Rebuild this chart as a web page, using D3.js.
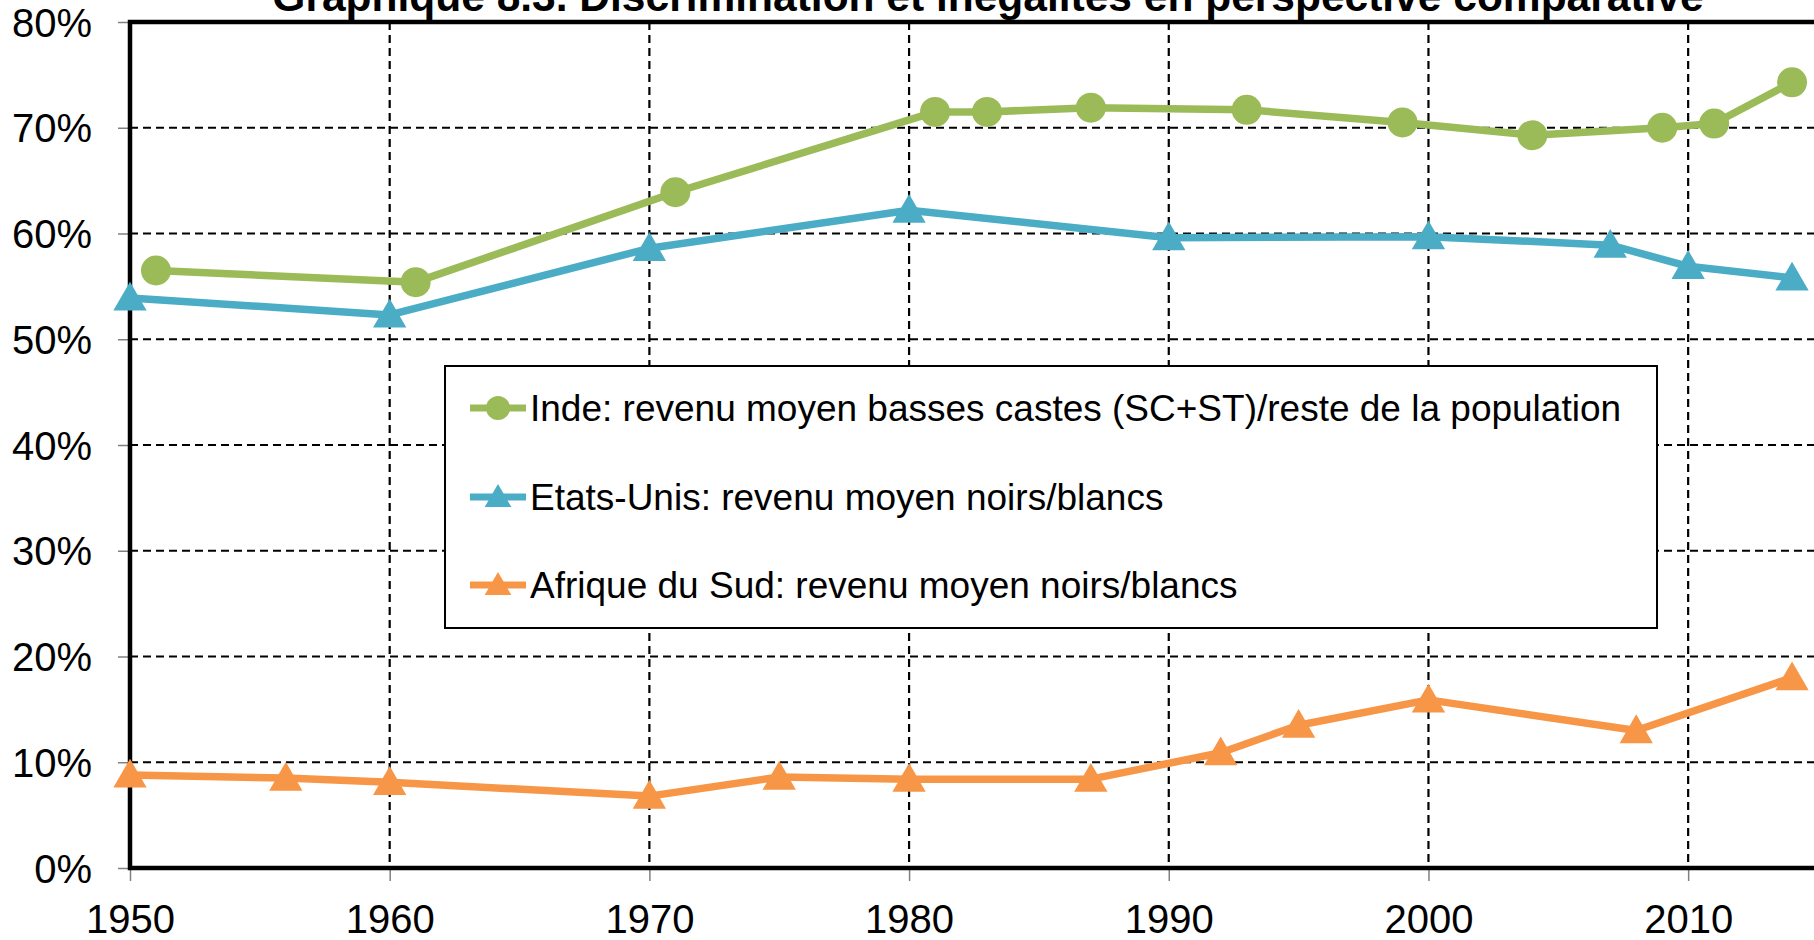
<!DOCTYPE html>
<html>
<head>
<meta charset="utf-8">
<script src="https://cdn.jsdelivr.net/npm/d3@7"></script>
<style>
  body { margin: 0; background: #fff; }
  svg { display: block; font-family: "Liberation Sans", Arial, sans-serif; }
</style>
</head>
<body>
<svg id="chart" width="1814" height="940"></svg>
<script>
// data
const titleText = "Graphique 8.3. Discrimination et inégalités en perspective comparative";

const indeYears = [1951, 1961, 1971, 1981, 1983, 1987, 1993, 1999, 2004, 2009, 2011, 2014];
const indeValues = [56.5, 55.4, 63.9, 71.5, 71.5, 71.9, 71.7, 70.5, 69.3, 70.0, 70.4, 74.3];

const usYears = [1950, 1960, 1970, 1980, 1990, 2000, 2007, 2010, 2014];
const usValues = [53.9, 52.3, 58.6, 62.2, 59.6, 59.7, 58.9, 56.9, 55.8];

const afsYears = [1950, 1956, 1960, 1970, 1975, 1980, 1987, 1992, 1995, 2000, 2008, 2014];
const afsValues = [8.8, 8.5, 8.1, 6.8, 8.6, 8.4, 8.4, 10.9, 13.5, 15.9, 13.0, 18.0];

const seriesNames = [
  "Inde: revenu moyen basses castes (SC+ST)/reste de la population",
  "Etats-Unis: revenu moyen noirs/blancs",
  "Afrique du Sud: revenu moyen noirs/blancs"
];

const xTicks = [1950, 1960, 1970, 1980, 1990, 2000, 2010];
const yTicks = [0, 10, 20, 30, 40, 50, 60, 70, 80];

const series = [
  { name: seriesNames[0], years: indeYears, values: indeValues, color: "#9BBB59", marker: "circle" },
  { name: seriesNames[1], years: usYears, values: usValues, color: "#4BACC6", marker: "triangle" },
  { name: seriesNames[2], years: afsYears, values: afsValues, color: "#F79646", marker: "triangle" }
];

const svg = d3.select("#chart");
const plotLeft = 130, plotTop = 22, plotRight = 1818, plotBottom = 868;

const x = d3.scaleLinear().domain([1950, 2015]).range([plotLeft, plotRight]);
const y = d3.scaleLinear().domain([0, 80]).range([plotBottom, plotTop]);

// title (partly cut at the top, as in the original)
svg.append("text")
  .attr("x", 988)
  .attr("y", 11)
  .attr("text-anchor", "middle")
  .style("font-weight", "bold")
  .style("font-size", "42.5px")
  .text(titleText);

// gridlines
svg.append("g")
  .selectAll("line")
  .data(yTicks.filter(d => d > 0 && d < 80))
  .enter()
  .append("line")
  .attr("x1", plotLeft).attr("x2", plotRight)
  .attr("y1", d => y(d)).attr("y2", d => y(d))
  .attr("stroke", "#000")
  .attr("stroke-width", 2.2)
  .attr("stroke-dasharray", "8,5");

svg.append("g")
  .selectAll("line")
  .data(xTicks.filter(d => d > 1950))
  .enter()
  .append("line")
  .attr("x1", d => x(d)).attr("x2", d => x(d))
  .attr("y1", plotTop).attr("y2", plotBottom)
  .attr("stroke", "#000")
  .attr("stroke-width", 2.2)
  .attr("stroke-dasharray", "8,5");

// axes
const yAxis = svg.append("g")
  .attr("transform", "translate(" + plotLeft + ",0)")
  .call(d3.axisLeft(y).tickValues(yTicks).tickSize(12).tickPadding(26).tickFormat(d => d + "%"));

const xAxis = svg.append("g")
  .attr("transform", "translate(0," + plotBottom + ")")
  .call(d3.axisBottom(x).tickValues(xTicks).tickSize(13).tickPadding(24).tickFormat(d3.format("d")));

[yAxis, xAxis].forEach(g => {
  g.select(".domain").remove();
  g.selectAll(".tick line").attr("stroke", "#808080").attr("stroke-width", 1.5);
  g.selectAll(".tick text")
    .attr("fill", "#000")
    .style("font-size", "40px")
    .style("font-family", "'Liberation Sans', Arial, sans-serif");
});
yAxis.selectAll(".tick text").attr("dy", "0.35em");
xAxis.selectAll(".tick text").attr("dy", "0.71em");

// plot area border
svg.append("rect")
  .attr("x", plotLeft)
  .attr("y", plotTop)
  .attr("width", plotRight - plotLeft)
  .attr("height", plotBottom - plotTop)
  .attr("fill", "none")
  .attr("stroke", "#000")
  .attr("stroke-width", 4.5);

const line = d3.line()
  .x(d => x(d[0]))
  .y(d => y(d[1]));

function drawMarker(g, s, cx, cy, scale) {
  if (s.marker === "circle") {
    g.append("circle")
      .attr("cx", cx).attr("cy", cy)
      .attr("r", 15 * scale)
      .attr("fill", s.color);
  } else {
    g.append("path")
      .attr("d", d3.symbol().type(d3.symbolTriangle).size(480 * scale * scale)())
      .attr("transform", "translate(" + cx + "," + (cy + 3 * scale) + ")")
      .attr("fill", s.color);
  }
}

series.forEach(s => {
  const pts = s.years.map((yr, i) => [yr, s.values[i]]);
  const g = svg.append("g");
  g.append("path")
    .datum(pts)
    .attr("d", line)
    .attr("fill", "none")
    .attr("stroke", s.color)
    .attr("stroke-width", 7.5)
    .attr("stroke-linejoin", "round");
  pts.forEach(p => drawMarker(g, s, x(p[0]), y(p[1]), 1));
});

// legend
const legend = svg.append("g");
legend.append("rect")
  .attr("x", 445)
  .attr("y", 366)
  .attr("width", 1212)
  .attr("height", 262)
  .attr("fill", "#fff")
  .attr("stroke", "#000")
  .attr("stroke-width", 2);

const rowY = [408, 497, 585];
series.forEach((s, i) => {
  const g = legend.append("g");
  g.append("line")
    .attr("x1", 470).attr("x2", 526)
    .attr("y1", rowY[i]).attr("y2", rowY[i])
    .attr("stroke", s.color)
    .attr("stroke-width", 7);
  drawMarker(g, s, 498, rowY[i], 0.8);
  g.append("text")
    .attr("x", 530)
    .attr("y", rowY[i])
    .attr("dy", "0.35em")
    .style("font-size", "37px")
    .text(s.name);
});
</script>
</body>
</html>
